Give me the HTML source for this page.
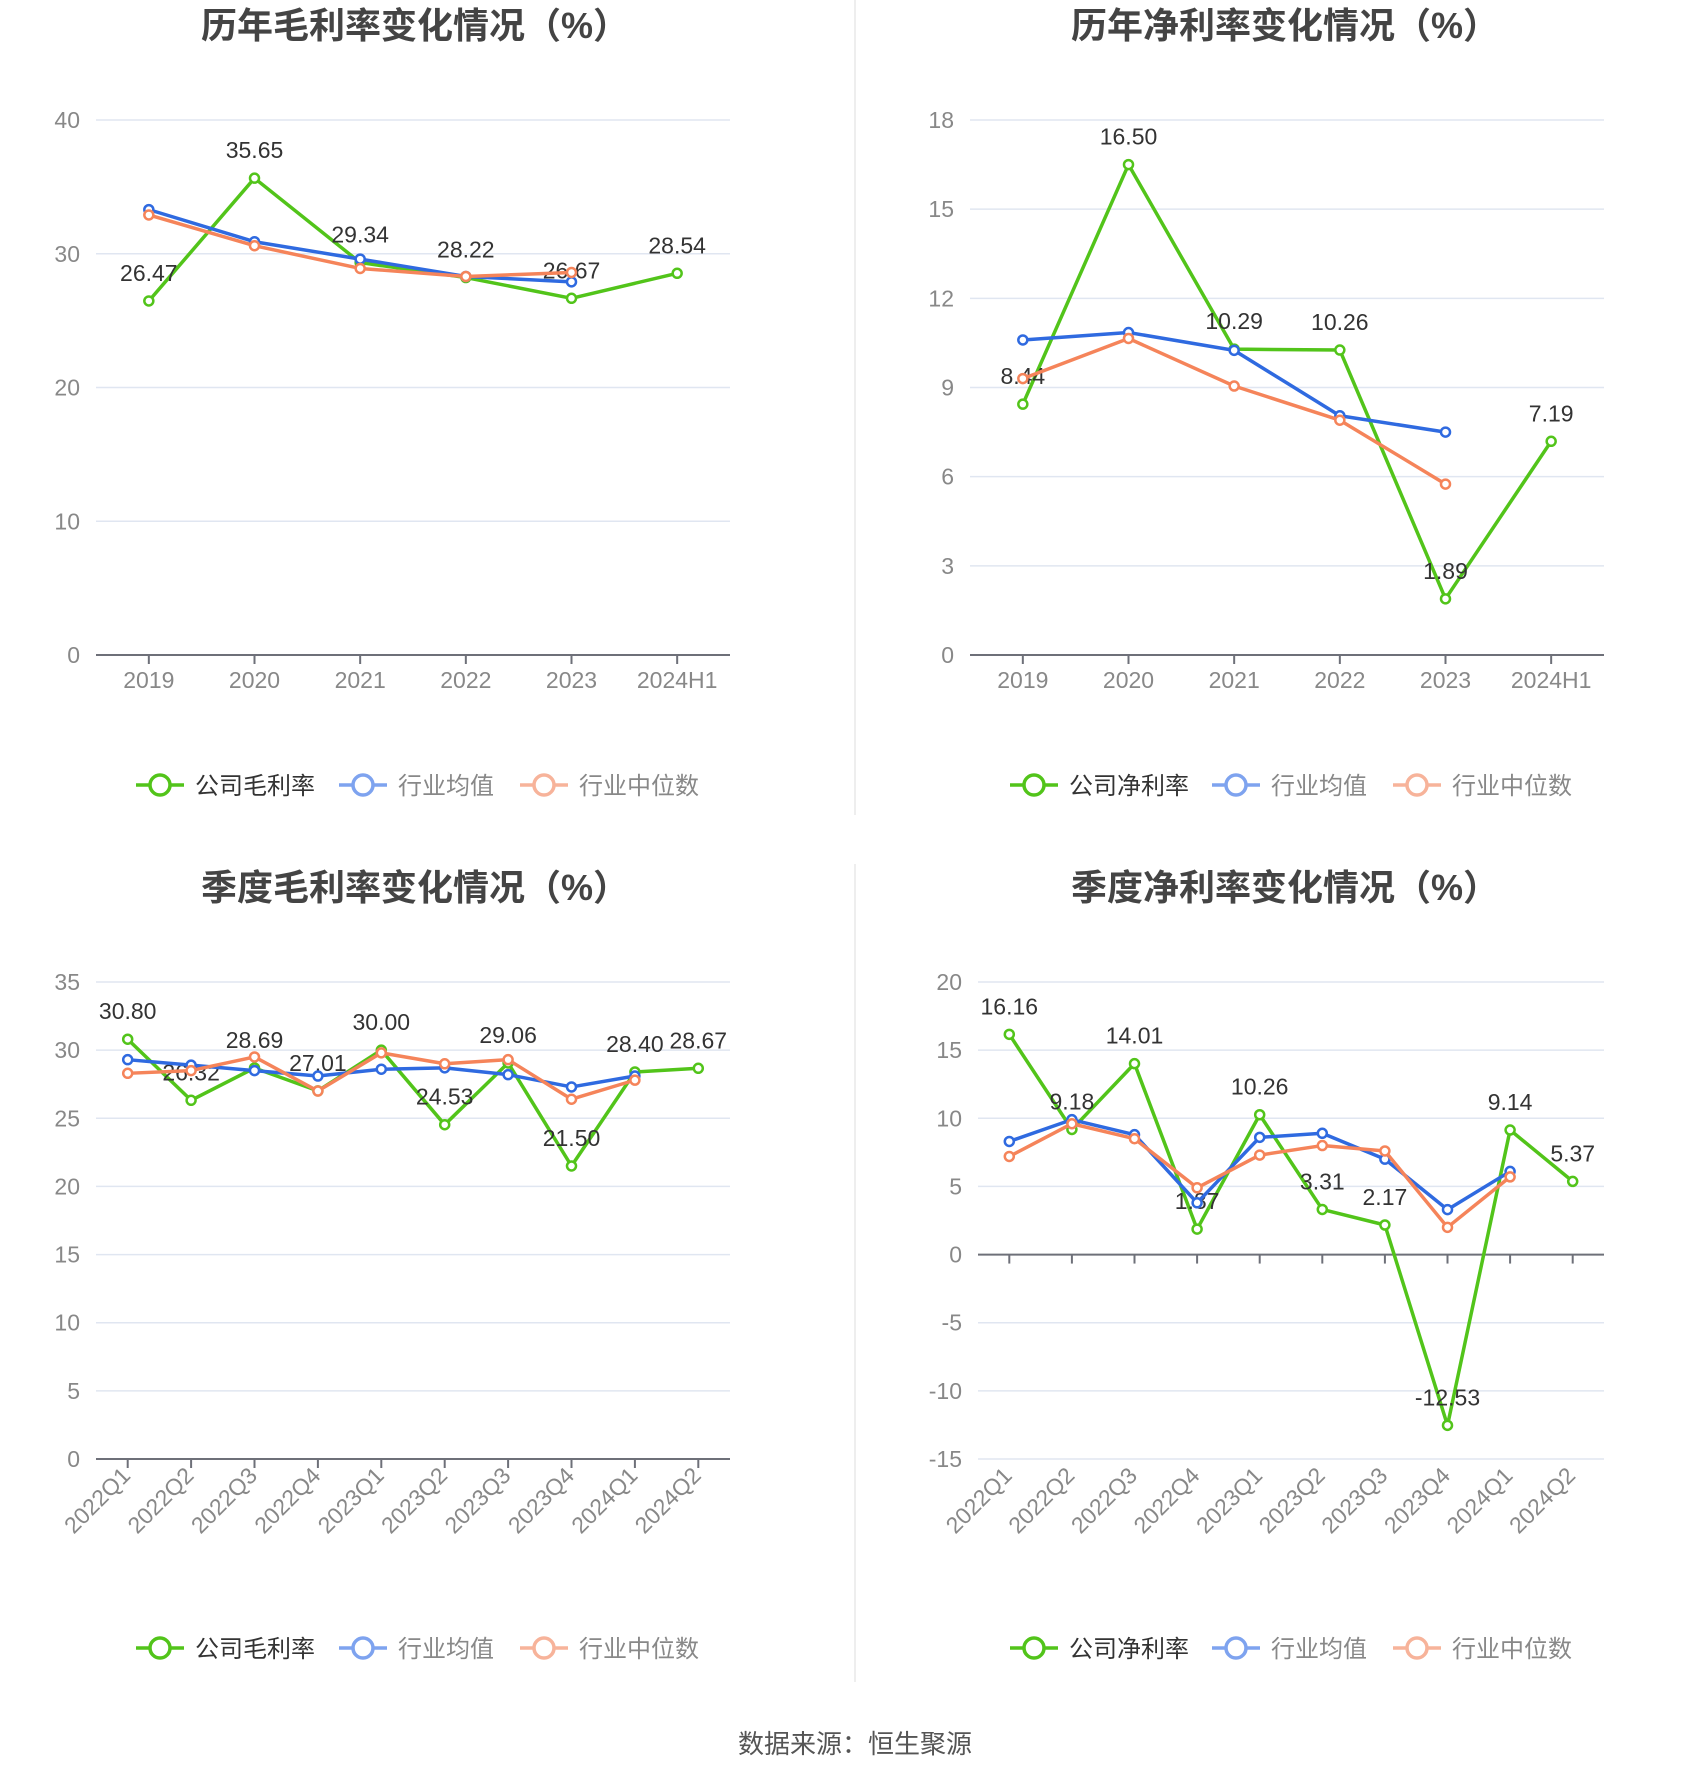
<!DOCTYPE html>
<html><head><meta charset="utf-8"><style>
html,body{margin:0;padding:0;background:#fff;}
svg{display:block;font-family:"Liberation Sans","Noto Sans CJK SC",sans-serif;}
</style></head><body>
<svg id="root" width="1700" height="1782" viewBox="0 0 1700 1782">
<line x1="855" y1="0" x2="855" y2="815" stroke="#eeeeee" stroke-width="2"/>
<line x1="855" y1="864" x2="855" y2="1682" stroke="#eeeeee" stroke-width="2"/>
<text x="855" y="1753" text-anchor="middle" font-size="26" fill="#555">数据来源：恒生聚源</text>
</svg>
<script>
const yearCats = ["2019","2020","2021","2022","2023","2024H1"];
const quarterCats = ["2022Q1","2022Q2","2022Q3","2022Q4","2023Q1","2023Q2","2023Q3","2023Q4","2024Q1","2024Q2"];

const c1Company = [26.47,35.65,29.34,28.22,26.67,28.54];
const c1Avg = [33.3,30.9,29.6,28.3,27.9];
const c1Median = [32.9,30.6,28.9,28.3,28.6];
const c1Ticks = [0,10,20,30,40];

const c2Company = [8.44,16.50,10.29,10.26,1.89,7.19];
const c2Avg = [10.6,10.85,10.25,8.05,7.5];
const c2Median = [9.3,10.65,9.05,7.9,5.75];
const c2Ticks = [0,3,6,9,12,15,18];

const c3Company = [30.80,26.32,28.69,27.01,30.00,24.53,29.06,21.50,28.40,28.67];
const c3Avg = [29.3,28.9,28.5,28.1,28.6,28.7,28.2,27.3,28.1];
const c3Median = [28.3,28.5,29.5,27.0,29.8,29.0,29.3,26.4,27.8];
const c3Ticks = [0,5,10,15,20,25,30,35];

const c4Company = [16.16,9.18,14.01,1.87,10.26,3.31,2.17,-12.53,9.14,5.37];
const c4Avg = [8.3,9.9,8.8,3.8,8.6,8.9,7.0,3.3,6.1];
const c4Median = [7.2,9.6,8.5,4.9,7.3,8.0,7.6,2.0,5.7];
const c4Ticks = [-15,-10,-5,0,5,10,15,20];

const NS="http://www.w3.org/2000/svg";
const root=document.getElementById('root');
function mk(tag,attrs,parent){const e=document.createElementNS(NS,tag);for(const k in attrs)e.setAttribute(k,attrs[k]);(parent||root).appendChild(e);return e;}
const GREEN="#52c41a",BLUE="#2f6ae0",ORANGE="#f5845a";

function chart(o){
  const g=mk('g',{});
  
  
  const n=o.cats.length, bw=(o.x1-o.x0)/n;
  const xs=i=>o.x0+bw*(i+0.5);
  const ymin=o.ticks[0], ymax=o.ticks[o.ticks.length-1];
  const ys=v=>o.yb-(v-ymin)/(ymax-ymin)*(o.yb-o.yt);
  const t=mk('text',{x:o.tx,y:o.ty,'text-anchor':'middle','font-size':36,'font-weight':'bold',fill:'#444'},g);
  t.textContent=o.title;
  
  
  o.ticks.forEach(v=>{
    if(v!==0){const l=mk('line',{x1:o.x0,x2:o.x1,y1:ys(v),y2:ys(v),stroke:'#e0e6f1','stroke-width':1.5},g);
      
      }
    const tl=mk('text',{x:o.x0-16,y:ys(v)+8,'text-anchor':'end','font-size':23,fill:'#888'},g);
    tl.textContent=v;
    
    
  });
  const ax=mk('line',{x1:o.x0,x2:o.x1,y1:ys(0),y2:ys(0),stroke:'#6e7079','stroke-width':2},g);
  
  
  o.cats.forEach((c,i)=>{
    const tk=mk('line',{x1:xs(i),x2:xs(i),y1:ys(0),y2:ys(0)+9,stroke:'#6e7079','stroke-width':2},g);
    
    
    let tl;
    if(o.rot){
      const bx=xs(i)+4, by=o.yb+18;
      tl=mk('text',{x:bx,y:by,'text-anchor':'end','font-size':23,fill:'#888',transform:`rotate(-45 ${bx} ${by})`},g);
    } else {
      tl=mk('text',{x:xs(i),y:ys(0)+33,'text-anchor':'middle','font-size':23,fill:'#888'},g);
    }
    tl.textContent=c;
    
    
  });
  function series(vals,color,nm,labels){
    const pts=vals.map((v,i)=>xs(i)+','+ys(v)).join(' ');
    const pl=mk('polyline',{points:pts,fill:'none',stroke:color,'stroke-width':3.5,'stroke-linejoin':'round'},g);
    
    
    vals.forEach((v,i)=>{
      const c=mk('circle',{cx:xs(i),cy:ys(v),r:4.5,fill:'#fff',stroke:color,'stroke-width':2.5},g);
      
      
      if(labels){
        const lt=mk('text',{x:xs(i),y:ys(v)-20,'text-anchor':'middle','font-size':23,fill:'#333'},g);
        lt.textContent=v.toFixed(2);
        
        
      }
    });
  }
  series(o.company,GREEN,'company',true);
  series(o.avg,BLUE,'industry-average',false);
  series(o.median,ORANGE,'industry-median',false);
  const items=[[o.l0,GREEN,o.lname,'#333'],[o.l1,'#7ea3ef','行业均值','#888'],[o.l2,'#f7b39a','行业中位数','#888']];
  items.forEach((it,k)=>{
    const lg=mk('g',{},g);
    
    
    const x=it[0], y=o.ly;
    mk('line',{x1:x,x2:x+48,y1:y,y2:y,stroke:it[1],'stroke-width':3.5},lg);
    mk('circle',{cx:x+24,cy:y,r:10,fill:'#fff',stroke:it[1],'stroke-width':3.5},lg);
    const tt=mk('text',{x:x+59,y:y+9,'font-size':24,fill:it[3]},lg);
    tt.textContent=it[2];
  });
}
chart({name:'annual-gross-margin-chart',title:'历年毛利率变化情况（%）',tx:415,ty:38,x0:96,x1:730,yt:120,yb:655,cats:yearCats,ticks:c1Ticks,company:c1Company,avg:c1Avg,median:c1Median,lname:'公司毛利率',l0:136,l1:339,l2:520,ly:785,rot:false});
chart({name:'annual-net-margin-chart',title:'历年净利率变化情况（%）',tx:1285,ty:38,x0:970,x1:1604,yt:120,yb:655,cats:yearCats,ticks:c2Ticks,company:c2Company,avg:c2Avg,median:c2Median,lname:'公司净利率',l0:1010,l1:1212,l2:1393,ly:785,rot:false});
chart({name:'quarterly-gross-margin-chart',title:'季度毛利率变化情况（%）',tx:415,ty:900,x0:96,x1:730,yt:982,yb:1459,cats:quarterCats,ticks:c3Ticks,company:c3Company,avg:c3Avg,median:c3Median,lname:'公司毛利率',l0:136,l1:339,l2:520,ly:1648,rot:true});
chart({name:'quarterly-net-margin-chart',title:'季度净利率变化情况（%）',tx:1285,ty:900,x0:978,x1:1604,yt:982,yb:1459,cats:quarterCats,ticks:c4Ticks,company:c4Company,avg:c4Avg,median:c4Median,lname:'公司净利率',l0:1010,l1:1212,l2:1393,ly:1648,rot:true});
</script>
</body></html>
